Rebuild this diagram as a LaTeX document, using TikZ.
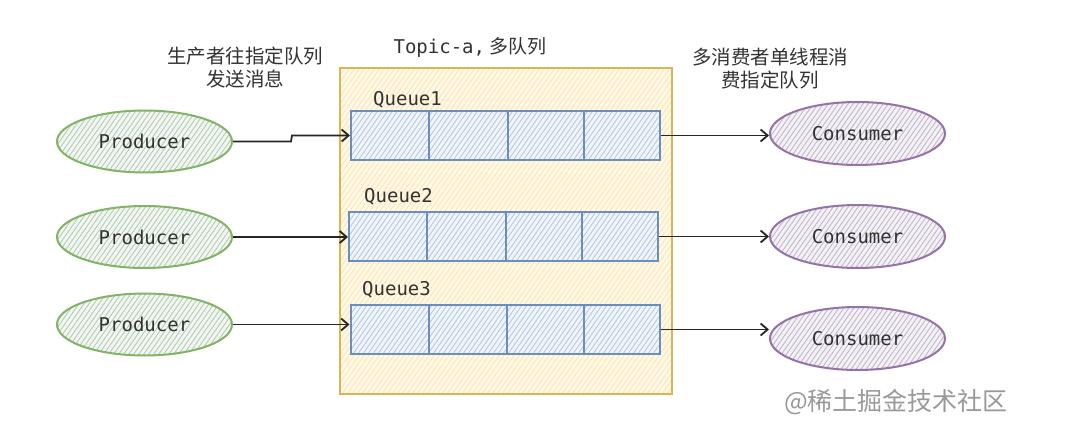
\documentclass[tikz,border=0pt]{standalone}
\usepackage{fontspec}
\setmonofont{DejaVu Sans Mono}
\newfontfamily\cjk{Noto Sans CJK SC}
\usetikzlibrary{shapes.geometric,arrows.meta,calc}
\definecolor{gstroke}{HTML}{82B366}
\definecolor{gfill}{HTML}{D5E8D4}
\definecolor{pstroke}{HTML}{9673A6}
\definecolor{pfill}{HTML}{E1D5E7}
\definecolor{bstroke}{HTML}{6C8EBF}
\definecolor{bfill}{HTML}{DAE8FC}
\definecolor{ystroke}{HTML}{D6B656}
\definecolor{yfill}{HTML}{FFF2CC}
\definecolor{txt}{HTML}{333333}
\definecolor{arrc}{HTML}{262626}
\tikzset{
  hatch/.style={path picture={
    \foreach \s in {-300,-295,...,300}{
      \draw[#1,line width=0.8pt] ($(path picture bounding box.center)+(\s-172,-246)$) -- ++(344,492);
    }}},
  producer/.style={ellipse,draw=gstroke,line width=2pt,minimum width=175pt,minimum height=62pt,inner sep=0pt,
    fill=gfill!35,hatch=gfill!85!black,font=\ttfamily\fontsize{19}{22}\selectfont,text=txt},
  consumer/.style={ellipse,draw=pstroke,line width=2pt,minimum width=175pt,minimum height=63pt,inner sep=0pt,
    fill=pfill!35,hatch=pfill!85!black,font=\ttfamily\fontsize{19}{22}\selectfont,text=txt},
  queue/.style={rectangle,draw=bstroke,line width=2pt,minimum width=309pt,minimum height=49pt,inner sep=0pt,
    fill=bfill!45,hatch=bfill!85!black},
  topicbox/.style={rectangle,draw=ystroke,line width=2pt,minimum width=332pt,minimum height=326pt,inner sep=0pt,
    fill=yfill!45,hatch=yfill!85!orange},
  lbl/.style={font=\ttfamily\fontsize{19}{22}\selectfont,text=txt,inner sep=0pt,anchor=west},
  note/.style={font=\cjk\fontsize{19.5}{23}\selectfont,text=txt,align=center,inner sep=0pt},
  arr/.style={line width=1.8pt,color=arrc,-{Straight Barb[length=7pt,width=12pt]}},
  divider/.style={draw=bstroke,line width=2pt}
}
\begin{document}
\begin{tikzpicture}[x=1pt,y=1pt]
\useasboundingbox (0,-441) rectangle (1080,0);
\fill[white] (0,-441) rectangle (1080,0);
% topic box
\node[topicbox] (topic) at (506,-231) {};
\node[font=\fontsize{19}{22}\selectfont,text=txt,inner sep=0pt] (tlabel) at (470,-47) {\ttfamily Topic-a,\cjk{} 多队列};
% notes
\node[note] (n1) at (245,-68) {生产者往指定队列\\发送消息};
\node[note] (n2) at (770,-69) {多消费者单线程消\\费指定队列};
% queues
\node[queue] (q1) at (505.5,-135.5) {};
\node[queue] (q2) at (503.5,-236.5) {};
\node[queue] (q3) at (505,-329.5) {};
\foreach \q in {q1,q2,q3}{
  \foreach \f in {0.255,0.507,0.753}{
    \draw[divider] ($(\q.north west)!\f!(\q.north east)$) -- ($(\q.south west)!\f!(\q.south east)$);
  }
}
\node[lbl] (l1) at (373,-100) {Queue1};
\node[lbl] (l2) at (364,-197) {Queue2};
\node[lbl] (l3) at (362,-290) {Queue3};
% producers
\node[producer] (p1) at (144.5,-141.5) {Producer};
\node[producer] (p2) at (144.5,-237) {Producer};
\node[producer] (p3) at (144.5,-324.5) {Producer};
% consumers
\node[consumer] (c1) at (857.5,-133.5) {Consumer};
\node[consumer] (c2) at (857.5,-236.5) {Consumer};
\node[consumer] (c3) at (857.5,-338.5) {Consumer};
% arrows
\draw[arr] (p1.east) -- ++(58,0) -- ($(q1.west)+(-58,0)$) -- (q1.west);
\draw[arr] (p2.east) -- (p2.east -| q2.west);
\draw[arr] (p3.east) -- (p3.east -| q3.west);
\draw[arr] (q1.east) -- (q1.east -| c1.west);
\draw[arr] (q2.east) -- (c2.west);
\draw[arr] (q3.east) -- (q3.east -| c3.west);
% watermark
\node[font=\cjk\fontsize{25}{28}\selectfont,text=black!40,inner sep=0pt] (wm) at (896,-402) {@稀土掘金技术社区};
\end{tikzpicture}
\end{document}
